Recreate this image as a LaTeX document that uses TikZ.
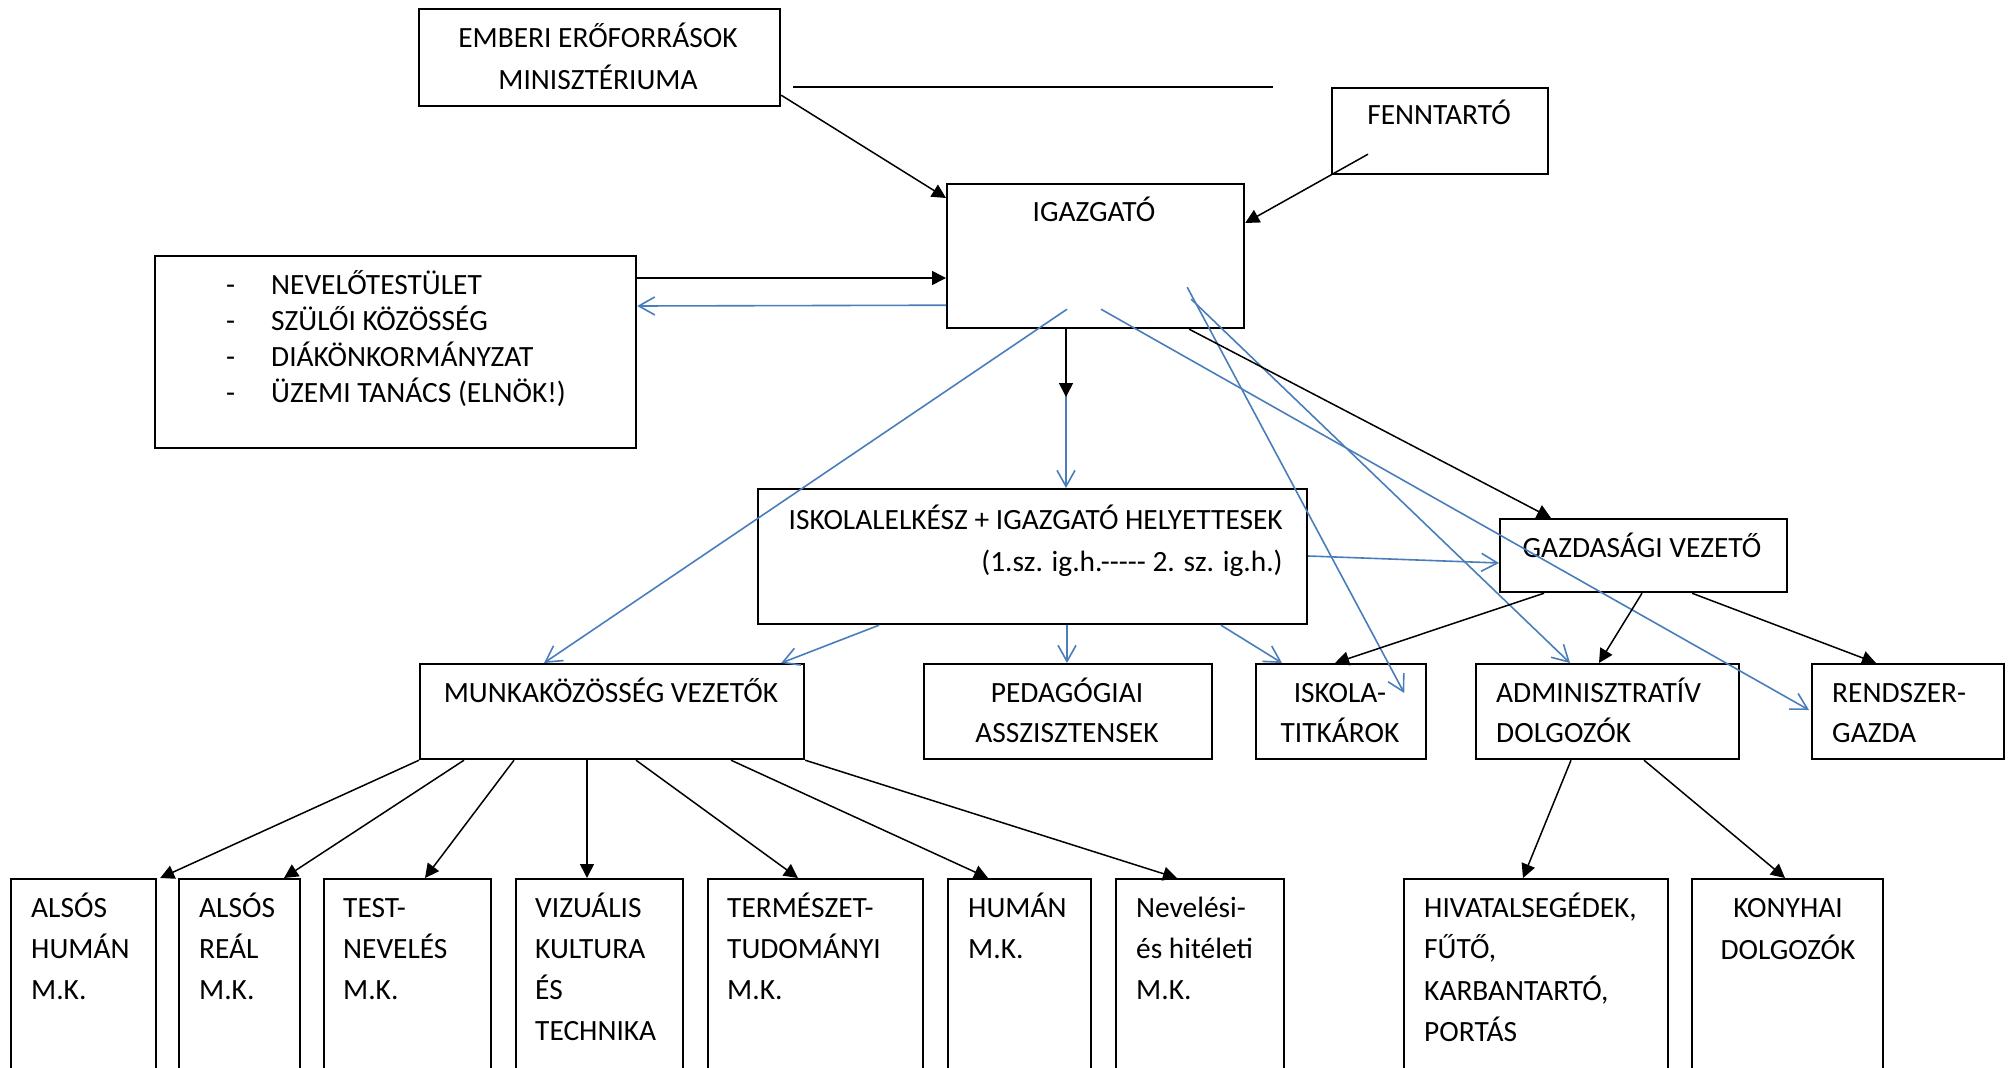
\documentclass[tikz,border=0pt]{standalone}
\usepackage{fontspec}
\setmainfont{Carlito}
\usetikzlibrary{arrows.meta}
\definecolor{lineblue}{RGB}{74,126,187}
\newcommand{\tstr}{\rule{0pt}{30pt}}
\begin{document}
\begin{tikzpicture}[x=1pt,y=-1pt,
  box/.style={draw, line width=2.2pt, inner sep=0pt, anchor=north west},
  txt/.style={inner sep=0pt, font=\fontsize{29.4}{41}\selectfont},
  blk/.style={draw=black, line width=1.5pt, -{Triangle[length=14pt,width=14pt]}},
  blu/.style={draw=lineblue, line width=1.6pt, -{Straight Barb[length=16pt,width=18pt]}},
  plain/.style={draw=black, line width=1.5pt}]
\useasboundingbox (0,0) rectangle (2008,1068);
\clip (0,0) rectangle (2008,1068);

% boxes
\node[box, minimum width=361pt, minimum height=97pt] (emmi) at (418,8) {};
\node[box, minimum width=216pt, minimum height=86pt] (fenn) at (1331,87) {};
\node[box, minimum width=297pt, minimum height=144pt] (igaz) at (946,183) {};
\node[box, minimum width=481pt, minimum height=192pt] (nev) at (154,255) {};
\node[box, minimum width=549pt, minimum height=135pt] (isk) at (757,488) {};
\node[box, minimum width=287pt, minimum height=73pt] (gazd) at (1499,518) {};
\node[box, minimum width=384pt, minimum height=95pt] (munka) at (419,663) {};
\node[box, minimum width=288pt, minimum height=95pt] (ped) at (923,663) {};
\node[box, minimum width=170pt, minimum height=95pt] (titk) at (1255,663) {};
\node[box, minimum width=263pt, minimum height=95pt] (adm) at (1475,663) {};
\node[box, minimum width=192pt, minimum height=95pt] (rend) at (1811,663) {};
\node[box, minimum width=145pt, minimum height=230pt] (b1) at (10,878) {};
\node[box, minimum width=121pt, minimum height=230pt] (b2) at (178,878) {};
\node[box, minimum width=167pt, minimum height=230pt] (b3) at (323,878) {};
\node[box, minimum width=167pt, minimum height=230pt] (b4) at (515,878) {};
\node[box, minimum width=215pt, minimum height=230pt] (b5) at (707,878) {};
\node[box, minimum width=143pt, minimum height=230pt] (b6) at (947,878) {};
\node[box, minimum width=168pt, minimum height=230pt] (b7) at (1115,878) {};
\node[box, minimum width=264pt, minimum height=230pt] (hiv) at (1403,878) {};
\node[box, minimum width=191pt, minimum height=230pt] (kony) at (1691,878) {};

% texts
\node[txt, anchor=north, align=center, font=\fontsize{29.4}{42}\selectfont] (temmi) at (598,17) {\tstr EMBERI ERŐFORRÁSOK\\MINISZTÉRIUMA};
\node[txt, anchor=north] (tfenn) at (1439,94) {\tstr FENNTARTÓ};
\node[txt, anchor=north] (tigaz) at (1094,191) {\tstr IGAZGATÓ};
\node[txt, anchor=north west, align=left, font=\fontsize{29.4}{36}\selectfont] (tnev) at (226,264)
  {\tstr\makebox[45pt][l]{-}NEVELŐTESTÜLET\\\makebox[45pt][l]{-}SZÜLŐI KÖZÖSSÉG\\\makebox[45pt][l]{-}DIÁKÖNKORMÁNYZAT\\\makebox[45pt][l]{-}ÜZEMI TANÁCS (ELNÖK!)};
\node[txt, anchor=north east, align=right, font=\fontsize{29.4}{42}\selectfont] (tisk) at (1283,499)
  {\tstr ISKOLALELKÉSZ + IGAZGATÓ HELYETTESEK\\(1.sz. ig.h.{-}{-}{-}{-}{-} 2. sz. ig.h.)};
\node[txt, anchor=north] (tgazd) at (1642,527) {\tstr GAZDASÁGI VEZETŐ};
\node[txt, anchor=north] (tmunka) at (611,672) {\tstr MUNKAKÖZÖSSÉG VEZETŐK};
\node[txt, anchor=north, align=center, font=\fontsize{29.4}{40}\selectfont] (tped) at (1067,672) {\tstr PEDAGÓGIAI\\ASSZISZTENSEK};
\node[txt, anchor=north, align=center, font=\fontsize{29.4}{40}\selectfont] (ttitk) at (1340,672) {\tstr ISKOLA-\\TITKÁROK};
\node[txt, anchor=north west, align=left, font=\fontsize{29.4}{40}\selectfont] (tadm) at (1496,672) {\tstr ADMINISZTRATÍV\\DOLGOZÓK};
\node[txt, anchor=north west, align=left, font=\fontsize{29.4}{40}\selectfont] (trend) at (1832,672) {\tstr RENDSZER-\\GAZDA};
\node[txt, anchor=north west, align=left] (tb1) at (31,887) {\tstr ALSÓS\\HUMÁN\\M.K.};
\node[txt, anchor=north west, align=left] (tb2) at (199,887) {\tstr ALSÓS\\REÁL\\M.K.};
\node[txt, anchor=north west, align=left] (tb3) at (343,887) {\tstr TEST-\\NEVELÉS\\M.K.};
\node[txt, anchor=north west, align=left] (tb4) at (535,887) {\tstr VIZUÁLIS\\KULTURA\\ÉS\\TECHNIKA};
\node[txt, anchor=north west, align=left] (tb5) at (727,887) {\tstr TERMÉSZET-\\TUDOMÁNYI\\M.K.};
\node[txt, anchor=north west, align=left] (tb6) at (968,887) {\tstr HUMÁN\\M.K.};
\node[txt, anchor=north west, align=left] (tb7) at (1136,887) {\tstr Nevelési-\\és hitéleti\\M.K.};
\node[txt, anchor=north west, align=left, font=\fontsize{29.4}{41.5}\selectfont] (thiv) at (1424,887) {\tstr HIVATALSEGÉDEK,\\FŰTŐ,\\KARBANTARTÓ,\\PORTÁS};
\node[txt, anchor=north, align=center, font=\fontsize{29.4}{42}\selectfont] (tkony) at (1788,887) {\tstr KONYHAI\\DOLGOZÓK};

% free line and free end
\coordinate (hl1) at (793,87);
\coordinate (hl2) at (1273,87);
\draw[plain] (hl1) -- (hl2);
\coordinate (vtip) at (1066,397);

% blue connectors
\draw[blu] ([yshift=24pt]igaz.south west) -- ([yshift=-51pt]nev.north east);
\draw[blu] ([xshift=120pt]igaz.south west) -- ([xshift=309pt]isk.north west);
\draw[blu] ([xshift=121pt,yshift=20pt]igaz.south west) -- ([xshift=125pt]munka.north west);
\draw[blu] ([xshift=-58pt,yshift=42pt]igaz.south east) -- ([xshift=-23pt,yshift=-30pt]titk.north east);
\draw[blu] ([xshift=-54pt,yshift=30pt]igaz.south east) -- ([xshift=95pt]adm.north west);
\draw[blu] ([xshift=155pt,yshift=20pt]igaz.south west) -- ([xshift=-2pt,yshift=-47pt]rend.north west);
\draw[blu] ([yshift=-68pt]isk.north east) -- ([yshift=-45pt]gazd.north west);
\draw[blu] ([xshift=122pt]isk.south west) -- ([xshift=-24pt]munka.north east);
\draw[blu] ([xshift=310pt]isk.south west) -- ([xshift=144pt]ped.north west);
\draw[blu] ([xshift=464pt]isk.south west) -- ([xshift=27pt]titk.north west);

% black connectors
\draw[blk] ([yshift=12pt]emmi.south east) -- ([yshift=-15pt]igaz.north west);
\draw[blk] ([xshift=37pt,yshift=21pt]fenn.south west) -- ([yshift=-40pt]igaz.north east);
\draw[blk] ([yshift=-23pt]nev.north east) -- ([yshift=-95pt]igaz.north west);
\draw[blk] ([xshift=120pt]igaz.south west) -- ([yshift=-50pt]igaz.south west -| vtip) -- (vtip);
\draw[blk] ([xshift=-56pt]igaz.south east) -- ([xshift=52pt]gazd.north west);
\draw[blk] ([xshift=45pt]gazd.south west) -- ([xshift=80pt]titk.north west);
\draw[blk] ([xshift=143pt]gazd.south west) -- ([xshift=124pt]adm.north west);
\draw[blk] ([xshift=193pt]gazd.south west) -- ([xshift=65pt]rend.north west);
\draw[blk] (munka.south west) -- ([xshift=3pt]b1.north east);
\draw[blk] ([xshift=45pt]munka.south west) -- ([xshift=106pt]b2.north west);
\draw[blk] ([xshift=95pt]munka.south west) -- ([xshift=102pt]b3.north west);
\draw[blk] ([xshift=168pt]munka.south west) -- ([xshift=72pt]b4.north west);
\draw[blk] ([xshift=217pt]munka.south west) -- ([xshift=91pt]b5.north west);
\draw[blk] ([xshift=312pt]munka.south west) -- ([xshift=41pt]b6.north west);
\draw[blk] (munka.south east) -- ([xshift=62pt]b7.north west);
\draw[blk] ([xshift=96pt]adm.south west) -- ([xshift=120pt]hiv.north west);
\draw[blk] ([xshift=169pt]adm.south west) -- ([xshift=94pt]kony.north west);
\end{tikzpicture}
\end{document}
